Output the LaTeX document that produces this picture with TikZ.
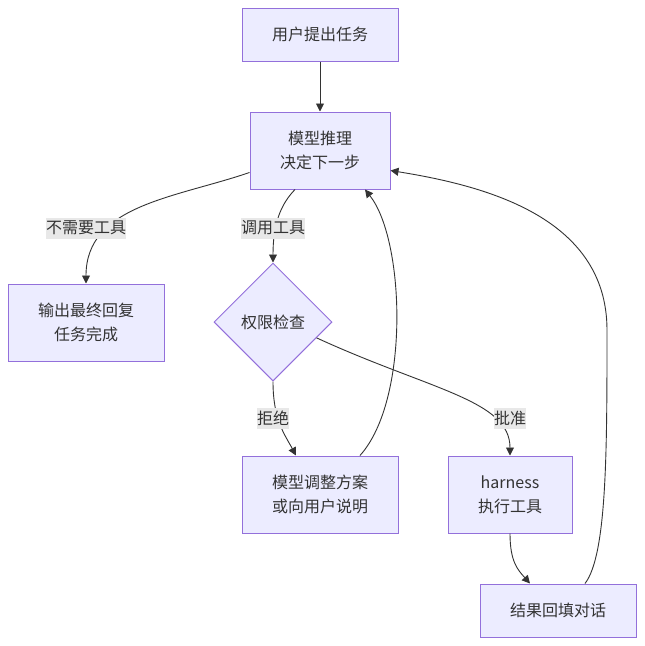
\documentclass[tikz,border=0pt]{standalone}
\usepackage{fontspec}
\setmainfont{Noto Sans CJK SC}
\usetikzlibrary{shapes.geometric,arrows.meta}
\definecolor{boxfill}{HTML}{ECECFF}
\definecolor{boxline}{HTML}{9370DB}
\definecolor{ink}{HTML}{333333}
\definecolor{lblfill}{HTML}{E8E8E8}
\begin{document}
\begin{tikzpicture}[x=1pt, y=-1pt,
  box/.style={rectangle, draw=boxline, fill=boxfill, line width=1pt, text=ink, align=center, inner sep=0pt, font=\fontsize{16}{24}\selectfont},
  check/.style={diamond, draw=boxline, fill=boxfill, line width=1pt, text=ink, inner sep=0pt, minimum size=118pt, font=\fontsize{16}{24}\selectfont},
  flow/.style={draw=ink, line width=0.9pt, -{Triangle[length=8pt,width=8pt]}},
  lbl/.style={fill=lblfill, text=ink, inner sep=0pt, minimum height=21pt, font=\fontsize{16}{20}\selectfont}]
       \fill[white] (0,0) rectangle (645,646);
       \useasboundingbox (0,0) rectangle (645,646);

       \node[box, minimum width=156pt, minimum height=53pt] (ask) at (320, 34.5) {用户提出任务};
       \node[box, minimum width=140pt, minimum height=77pt] (think) at (320, 150.5) {模型推理\\决定下一步};
       \node[box, minimum width=156pt, minimum height=77pt] (done) at (86, 322.5) {输出最终回复\\任务完成};
       \node[check] (perm) at (273, 322) {权限检查};
       \node[box, minimum width=156pt, minimum height=77pt] (adjust) at (320, 494.5) {模型调整方案\\或向用户说明};
       \node[box, minimum width=124pt, minimum height=77pt] (run) at (510, 494.5) {harness\\执行工具};
       \node[box, minimum width=156pt, minimum height=53pt] (back) at (558, 610.5) {结果回填对话};

       % connectors
       \draw[flow] (ask) -- (think);
       \draw[flow] ([yshift=-22pt]think.west) .. controls (175,198) and (86,205) .. (done.north);
       \draw[flow] ([xshift=-25pt]think.south) .. controls (280,205) and (273,225) .. (perm.north);
       \draw[flow] (perm.south) .. controls (273,420) and (285,435) .. ([xshift=-24pt]adjust.north);
       \draw[flow] (perm.-20) .. controls (430,390) and (510,400) .. (run.north);
       \draw[flow] ([xshift=40pt]adjust.north) .. controls (410,400) and (405,240) .. ([xshift=45pt]think.south);
       \draw[flow] (run.south) .. controls (510,562) and (518,570) .. ([xshift=-28pt]back.north);
       \draw[flow] ([xshift=27pt]back.north) .. controls (607,555) and (607,450) .. (607,330)
                   .. controls (607,215) and (480,185) .. ([yshift=-20pt]think.east);

       % edge labels
       \node[lbl] (l1) at (86, 228) {不需要工具};
       \node[lbl] (l2) at (273, 228) {调用工具};
       \node[lbl] (l3) at (273, 418.5) {拒绝};
       \node[lbl] (l4) at (510, 418.5) {批准};
\end{tikzpicture}
\end{document}
